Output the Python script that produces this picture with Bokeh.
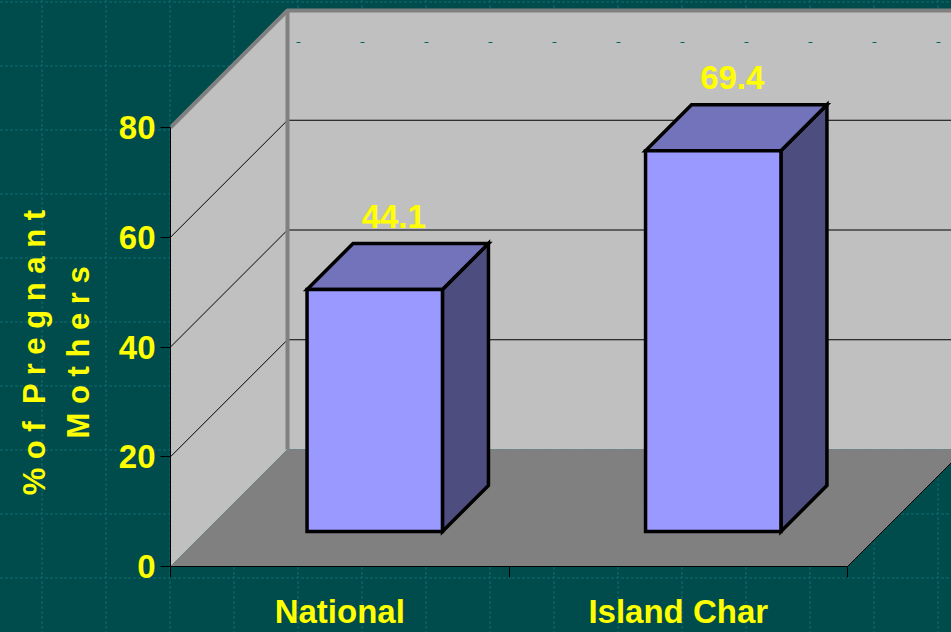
from bokeh.plotting import figure
from bokeh.embed import file_html
from bokeh.resources import INLINE
from bokeh.models import Range1d, LinearAxis, FixedTicker
from bokeh.core.properties import value

categories = ["National", "Island Char"]
values = [44.1, 69.4]
value_labels = ["44.1", "69.4"]
y_ticks = [0, 20, 40, 60, 80]
TITLE_PAD = "\u00a0" * 16   # trailing blanks move the centred title down along the axis
y_title = "% o f\u00a0\u00a0P r e g n a n t" + TITLE_PAD + "\nM o t h e r s" + TITLE_PAD

FONT = "Liberation Sans"
YELLOW = "#ffff00"
WALL = "#c0c0c0"
EDGE = "#808080"
FRONT, TOP, SIDE = "#9999ff", "#7373bb", "#4d4d7f"

W, H = 951, 632
PX_CAT = 338.5          # pixels per category
PX_VAL = 5.4875         # pixels per value unit
X0, Y0 = 170, 566       # canvas position of the chart origin
DEPTH = 117             # oblique depth of the walls, px
BAR_Z, BAR_D = 35, 46   # bar inset and bar depth, px
BAR_W = 0.4             # bar width in categories

x_end = (W - X0) / PX_CAT
y_end = Y0 / PX_VAL

p = figure(width=W, height=H, output_backend="svg", toolbar_location=None,
           x_range=Range1d(0, x_end), y_range=Range1d(0, y_end),
           x_axis_type=None, y_axis_type=None,
           frame_width=W - X0, frame_height=Y0,
           min_border_left=X0, min_border_right=0, min_border_top=0, min_border_bottom=H - Y0)
p.grid.visible = False
p.outline_line_color = None
p.border_fill_color = None
p.background_fill_color = None


def ox(x, z):
    return x + float(z) / PX_CAT


def oy(y, z):
    return y + float(z) / PX_VAL


n = len(categories)
vmax = y_ticks[-1]

# back wall, side wall, floor
p.patch([ox(0, DEPTH), ox(n, DEPTH), ox(n, DEPTH), ox(0, DEPTH)],
        [oy(0, DEPTH), oy(0, DEPTH), oy(vmax, DEPTH), oy(vmax, DEPTH)], fill_color=WALL, line_color=None)
p.patch([0, ox(0, DEPTH), ox(0, DEPTH), 0],
        [0, oy(0, DEPTH), oy(vmax, DEPTH), vmax], fill_color=WALL, line_color=None)
p.patch([0, n, ox(n, DEPTH), ox(0, DEPTH)],
        [0, 0, oy(0, DEPTH), oy(0, DEPTH)], fill_color=EDGE, line_color=None)
p.line([n, ox(n, DEPTH)], [0, oy(0, DEPTH)], line_color="#000000", line_width=1)

# wall gridlines
for t in y_ticks[1:-1]:
    p.line([0, ox(0, DEPTH), ox(n, DEPTH)], [t, oy(t, DEPTH), oy(t, DEPTH)], line_color="#000000", line_width=1)

# grey wall edges
p.line([0, ox(0, DEPTH), ox(n, DEPTH)], [vmax, oy(vmax, DEPTH), oy(vmax, DEPTH)], line_color=EDGE, line_width=4)
p.line([ox(0, DEPTH), ox(0, DEPTH)], [oy(0, DEPTH), oy(vmax, DEPTH)], line_color=EDGE, line_width=4)

# small teal specks on the back wall
for sx in range(296, 951, 64):
    xs = (sx - X0) / PX_CAT
    p.line([xs, xs + 4 / PX_CAT], [(Y0 - 42) / PX_VAL] * 2, line_color="#006666", line_width=1)

# bars
for i, v in enumerate(values):
    l = i + 0.5 - BAR_W / 2
    r = i + 0.5 + BAR_W / 2
    z0, z1 = BAR_Z, BAR_Z + BAR_D
    style = dict(line_color="#000000", line_width=3.5, line_join="miter")
    p.patch([ox(r, z0), ox(r, z1), ox(r, z1), ox(r, z0)],
            [oy(0, z0), oy(0, z1), oy(v, z1), oy(v, z0)], fill_color=SIDE, **style)
    p.patch([ox(l, z0), ox(r, z0), ox(r, z1), ox(l, z1)],
            [oy(v, z0), oy(v, z0), oy(v, z1), oy(v, z1)], fill_color=TOP, **style)
    p.patch([ox(l, z0), ox(r, z0), ox(r, z0), ox(l, z0)],
            [oy(0, z0), oy(0, z0), oy(v, z0), oy(v, z0)], fill_color=FRONT, **style)

# value labels
p.text(x=[ox(i + 0.5, 54) for i in range(n)], y=[oy(v, 108) for v in values], text=value_labels,
       text_font=value(FONT), text_font_style="bold", text_font_size="33px", text_color=YELLOW,
       text_align="center", text_baseline="alphabetic")

# axes
yax = LinearAxis(ticker=FixedTicker(ticks=y_ticks), bounds=(0, vmax))
yax.major_label_text_font = FONT
yax.major_label_text_font_style = "bold"
yax.major_label_text_font_size = "33px"
yax.major_label_text_color = YELLOW
yax.major_tick_in = 0
yax.major_tick_out = 10
yax.major_tick_line_color = "#000000"
yax.minor_tick_line_color = None
yax.axis_line_color = "#000000"
yax.major_label_standoff = 5
yax.axis_label = y_title
yax.axis_label_text_font = FONT
yax.axis_label_text_font_style = "bold"
yax.axis_label_text_font_size = "31px"
yax.axis_label_text_line_height = 1.25
yax.axis_label_text_color = YELLOW
yax.axis_label_standoff = 20
p.add_layout(yax, "left")

xax = LinearAxis(ticker=FixedTicker(ticks=[i + 0.5 for i in range(n)], minor_ticks=list(range(n + 1))),
                 bounds=(0, n), major_label_overrides={i + 0.5: c for i, c in enumerate(categories)})
xax.major_label_text_font = FONT
xax.major_label_text_font_style = "bold"
xax.major_label_text_font_size = "33px"
xax.major_label_text_color = YELLOW
xax.major_tick_line_color = None
xax.minor_tick_in = 0
xax.minor_tick_out = 11
xax.minor_tick_line_color = "#000000"
xax.axis_line_color = "#000000"
xax.major_label_standoff = 15
p.add_layout(xax, "below")

# slide background: teal with a faint repeating 64 px tile behind the transparent figure
tile = ("data:image/svg+xml,%3Csvg xmlns='http://www.w3.org/2000/svg' width='64' height='64'%3E"
        "%3Cpath d='M42 0V64M0 2H64' fill='none' stroke='%230a5f63' stroke-width='1.5' stroke-dasharray='3 2'/%3E%3C/svg%3E")
template = ("{% block postamble %}<style>html, body { background: #004c4c url(\"" + tile + "\") 0 0 repeat; }</style>{% endblock %}")
open("out.html", "w").write(file_html(p, INLINE, template=template))
